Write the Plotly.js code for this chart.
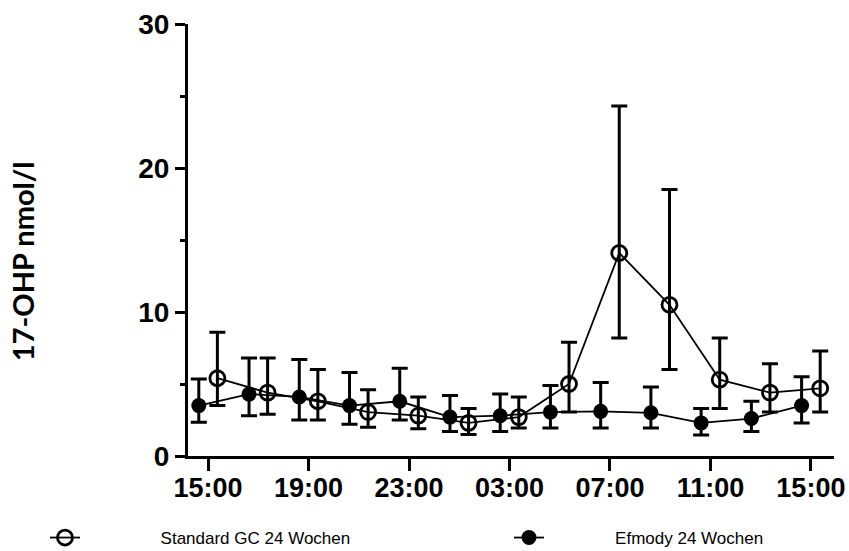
<!DOCTYPE html>
<html><head><meta charset="utf-8">
<script src="https://cdn.plot.ly/plotly-3.0.1.min.js"></script>
<style>html,body{margin:0;padding:0;background:#fff}</style>
</head><body><div id="chart" style="width:849px;height:551px"></div>
<script>
// ---- data ----
var sampleHours = [0, 2, 4, 6, 8, 10, 12, 14, 16, 18, 20, 22, 24]; // hours after 15:00
var tickHours = [0, 4, 8, 12, 16, 20, 24];
var tickLabels = ['15:00', '19:00', '23:00', '03:00', '07:00', '11:00', '15:00'];

var standardName = 'Standard GC 24 Wochen';
var standardMean  = [5.4, 4.4, 3.8, 3.05, 2.8, 2.3, 2.7, 5.0, 14.1, 10.5, 5.3, 4.4, 4.7];
var standardUpper = [8.6, 6.8, 6.0, 4.6, 4.1, 3.3, 4.1, 7.9, 24.3, 18.5, 8.2, 6.4, 7.3];
var standardLower = [3.5, 2.9, 2.5, 2.0, 1.9, 1.5, 1.95, 3.05, 8.2, 6.0, 3.3, 3.05, 3.05];

var efmodyName = 'Efmody 24 Wochen';
var efmodyMean  = [3.5, 4.3, 4.1, 3.5, 3.8, 2.7, 2.8, 3.05, 3.1, 3.0, 2.3, 2.6, 3.5];
var efmodyUpper = [5.35, 6.8, 6.7, 5.8, 6.1, 4.2, 4.3, 4.9, 5.1, 4.8, 3.3, 3.8, 5.5];
var efmodyLower = [2.35, 2.8, 2.5, 2.2, 2.5, 1.7, 1.7, 1.95, 1.95, 1.95, 1.45, 1.7, 2.3];

var yTitle = '17-OHP nmol/l';

// ---- helpers ----
var dodge = 0.37; // horizontal nudge (hours) so the two groups do not overlap
function shift(arr, d) { return arr.map(function (v) { return v + d; }); }
function diff(a, b) { return a.map(function (v, i) { return +(v - b[i]).toFixed(3); }); }

function makeTrace(name, mean, upper, lower, d, open, legendId, padN) {
  return {
    type: 'scatter', mode: 'lines+markers', name: '\u00a0'.repeat(padN) + name, legend: legendId,
    x: shift(sampleHours, d), y: mean,
    line: {color: '#000', width: 1.8},
    marker: open
      ? {symbol: 'circle-open', size: 15, color: '#000', line: {color: '#000', width: 2.8}}
      : {symbol: 'circle', size: 15, color: '#000', line: {color: '#000', width: 0}},
    error_y: {type: 'data', symmetric: false,
      array: diff(upper, mean), arrayminus: diff(mean, lower),
      color: '#000', thickness: 3, width: 8},
    cliponaxis: false
  };
}

var traces = [
  makeTrace(standardName, standardMean, standardUpper, standardLower, dodge, true, 'legend', 16),
  makeTrace(efmodyName, efmodyMean, efmodyUpper, efmodyLower, -dodge, false, 'legend2', 14)
];

var tickFontX = {family: 'Liberation Sans, Arial, sans-serif', size: 27, color: '#000', weight: 'bold'};
var tickFontY = {family: 'Liberation Sans, Arial, sans-serif', size: 28, color: '#000', weight: 'bold'};
var legendFont = {family: 'Liberation Sans, Arial, sans-serif', size: 17, color: '#000'};

function legendAt(px) {
  return {
    orientation: 'h', xref: 'container', yref: 'container',
    x: px / 849, y: 1 - 538 / 551, xanchor: 'left', yanchor: 'middle',
    font: legendFont, bgcolor: 'rgba(0,0,0,0)', borderwidth: 0
  };
}

var layout = {
  width: 849, height: 551,
  margin: {l: 188, r: 15, t: 24, b: 95, pad: 0},
  paper_bgcolor: '#fff', plot_bgcolor: '#fff',
  showlegend: true,
  xaxis: {
    range: [-0.8, 24.92], tickmode: 'array', tickvals: tickHours, ticktext: tickLabels,
    showline: true, linecolor: '#000', linewidth: 3,
    ticks: 'outside', ticklen: 12, tickwidth: 3, tickcolor: '#000', ticklabelstandoff: -6,
    showgrid: false, zeroline: false, tickfont: tickFontX, fixedrange: true
  },
  yaxis: {
    range: [0, 30], tickmode: 'array', tickvals: [0, 10, 20, 30],
    showline: true, linecolor: '#000', linewidth: 3,
    ticks: 'outside', ticklen: 10, tickwidth: 3, tickcolor: '#000',
    minor: {tickvals: [5, 15, 25], ticks: 'outside', ticklen: 5, tickwidth: 3, tickcolor: '#000'},
    showgrid: false, zeroline: false, tickfont: tickFontY, fixedrange: true
  },
  annotations: [{
    text: yTitle, xref: 'paper', yref: 'paper', x: -0.257, y: 0.451,
    xanchor: 'center', yanchor: 'middle', textangle: -90, showarrow: false,
    font: {family: 'Lato, Open Sans, sans-serif', size: 29, color: '#000', weight: 'bold'}
  }],
  legend: legendAt(45),
  legend2: legendAt(509)
};

Plotly.newPlot('chart', traces, layout, {displayModeBar: false, staticPlot: true});
</script></body></html>
